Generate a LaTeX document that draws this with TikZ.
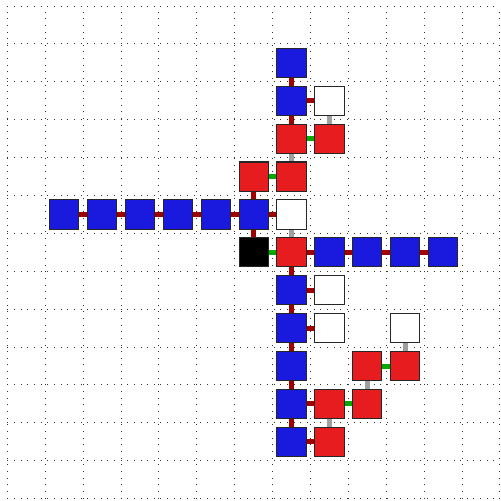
\documentclass[tikz,border=0pt]{standalone}
\usepackage{tikz}
\usetikzlibrary{positioning,backgrounds}
\definecolor{hpblue}{RGB}{26,26,222}
\definecolor{hpred}{RGB}{230,28,30}
\definecolor{hpbond}{RGB}{160,0,0}
\definecolor{hpcont}{RGB}{0,170,0}
\definecolor{hpside}{RGB}{160,160,160}

\begin{document}
\begin{tikzpicture}[x=1cm, y=1cm,
  cell/.style={draw=black!85, line width=0.8pt, minimum size=0.77cm, inner sep=0pt},
  hbox/.style={cell, fill=hpblue},
  pbox/.style={cell, fill=hpred},
  wbox/.style={cell, fill=white},
  kbox/.style={cell, fill=black},
  chain/.style={draw=hpbond, line width=3.7pt},
  cont/.style={draw=hpcont, line width=3.7pt},
  side/.style={draw=hpside, line width=3.7pt}]
  \useasboundingbox (-0.193,-0.061) rectangle (13.018,13.159);
  % 网格
  \begin{scope}[on background layer]
    \draw[black!80, line width=0.75pt, dash pattern=on 0.75pt off 4.25pt] (0,0) grid (13,13);
  \end{scope}
  % 主链（竖直）
  \node[hbox] (t1) at (7.5,11.5) {};
  \node[hbox] (t2) at (7.5,10.5) {};
  \node[pbox] (t3) at (7.5,9.5) {};
  \node[pbox] (t4) at (7.5,8.5) {};
  \node[wbox] (w2) at (7.5,7.5) {};
  \node[pbox] (t6) at (7.5,6.5) {};
  \node[hbox] (t7) at (7.5,5.5) {};
  \node[hbox] (t8) at (7.5,4.5) {};
  \node[hbox] (t9) at (7.5,3.5) {};
  \node[hbox] (t10) at (7.5,2.5) {};
  \node[hbox] (t11) at (7.5,1.5) {};
  % 左臂
  \node[hbox] (l1) at (1.5,7.5) {};
  \node[hbox] (l2) at (2.5,7.5) {};
  \node[hbox] (l3) at (3.5,7.5) {};
  \node[hbox] (l4) at (4.5,7.5) {};
  \node[hbox] (l5) at (5.5,7.5) {};
  \node[hbox] (l6) at (6.5,7.5) {};
  \node[pbox] (r2) at (6.5,8.5) {};
  \node[kbox] (k) at (6.5,6.5) {};
  % 右臂
  \node[hbox] (e1) at (8.5,6.5) {};
  \node[hbox] (e2) at (9.5,6.5) {};
  \node[hbox] (e3) at (10.5,6.5) {};
  \node[hbox] (e4) at (11.5,6.5) {};
  % 侧链
  \node[wbox] (w1) at (8.5,10.5) {};
  \node[pbox] (r1) at (8.5,9.5) {};
  \node[wbox] (w3) at (8.5,5.5) {};
  \node[wbox] (w4) at (8.5,4.5) {};
  \node[wbox] (w5) at (10.5,4.5) {};
  \node[pbox] (r3) at (9.5,3.5) {};
  \node[pbox] (r4) at (10.5,3.5) {};
  \node[pbox] (r5) at (8.5,2.5) {};
  \node[pbox] (r6) at (9.5,2.5) {};
  \node[pbox] (r7) at (8.5,1.5) {};
  % 连线
  \begin{scope}[on background layer]
    \draw[chain] (t1) -- (t2) -- (t3);
    \draw[chain] (t2) -- (w1);
    \draw[chain] (r2) -- (l6) -- (w2);
    \draw[chain] (l1) -- (l2) -- (l3) -- (l4) -- (l5) -- (l6) -- (k);
    \draw[chain] (t6) -- (e1) -- (e2) -- (e3) -- (e4);
    \draw[chain] (t6) -- (t7) -- (t8) -- (t9) -- (t10) -- (t11);
    \draw[chain] (t7) -- (w3);
    \draw[chain] (t8) -- (w4);
    \draw[chain] (t10) -- (r5);
    \draw[chain] (t11) -- (r7);
    \draw[cont] (t3) -- (r1);
    \draw[cont] (r2) -- (t4);
    \draw[cont] (k) -- (t6);
    \draw[cont] (r5) -- (r6);
    \draw[cont] (r3) -- (r4);
    \draw[side] (w1) -- (r1);
    \draw[side] (t3) -- (t4);
    \draw[side] (w2) -- (t6);
    \draw[side] (r6) -- (r3);
    \draw[side] (r4) -- (w5);
    \draw[side] (r7) -- (r5);
  \end{scope}
\end{tikzpicture}
\end{document}
